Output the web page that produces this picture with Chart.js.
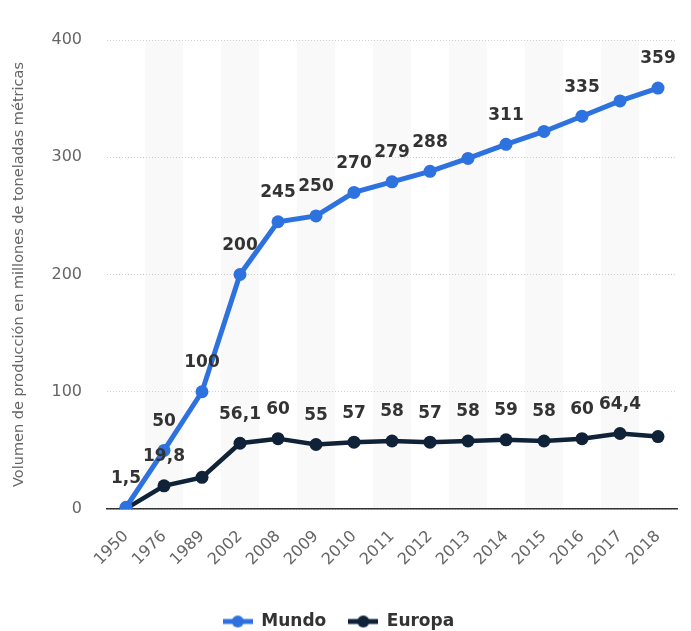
<!DOCTYPE html>
<html>
<head>
<meta charset="utf-8">
<script src="https://cdn.jsdelivr.net/npm/chart.js@4.4.1/dist/chart.umd.min.js"></script>
<style>
  html, body { margin: 0; padding: 0; background: #fff; }
  #wrap { width: 691px; height: 631px; position: relative; }
</style>
</head>
<body>
<div id="wrap"><canvas id="myChart"></canvas></div>
<script>
const years = ['1950', '1976', '1989', '2002', '2008', '2009', '2010', '2011', '2012', '2013', '2014', '2015', '2016', '2017', '2018'];
const mundo = [1.5, 50, 100, 200, 245, 250, 270, 279, 288, 299, 311, 322, 335, 348, 359];
const europa = [0.35, 19.8, 27, 56.1, 60, 55, 57, 58, 57, 58, 59, 58, 60, 64.4, 61.8];
const mundoLabels = ['1,5', '50', '100', '200', '245', '250', '270', '279', '288', null, '311', null, '335', null, '359'];
const europaLabels = [null, '19,8', null, '56,1', '60', '55', '57', '58', '57', '58', '59', '58', '60', '64,4', null];
const yTicks = [0, 100, 200, 300, 400];

const blue = '#2d72de';
const navy = '#0f2238';

// little line+dot picture for the legend
function legendMark(color) {
  let c = document.createElement('canvas');
  c.width = 30; c.height = 14;
  let g = c.getContext('2d');
  g.strokeStyle = color; g.lineWidth = 5;
  g.beginPath(); g.moveTo(0, 7); g.lineTo(30, 7); g.stroke();
  g.fillStyle = color;
  g.beginPath(); g.arc(15, 7, 6, 0, Math.PI * 2); g.fill();
  return c;
}

const bands = {
  id: 'bands',
  beforeDraw(chart) {
    const {ctx, chartArea, scales} = chart;
    ctx.save();
    ctx.fillStyle = '#fff';
    ctx.fillRect(0, 0, chart.width, chart.height);
    const step = scales.x.getPixelForValue(1) - scales.x.getPixelForValue(0);
    ctx.fillStyle = '#f9f9f9';
    years.forEach((y, i) => {
      if (i % 2 === 1) {
        const cx = scales.x.getPixelForValue(i);
        ctx.fillRect(cx - step / 2, chartArea.top, step, chartArea.bottom - chartArea.top);
      }
    });
    ctx.restore();
  }
};

const valueLabels = {
  id: 'valueLabels',
  afterDatasetsDraw(chart) {
    const ctx = chart.ctx;
    const sets = [mundoLabels, europaLabels];
    ctx.save();
    ctx.font = 'bold 17px "DejaVu Sans"';
    ctx.fillStyle = '#333';
    ctx.textAlign = 'center';
    ctx.textBaseline = 'middle';
    sets.forEach((labels, d) => {
      const meta = chart.getDatasetMeta(d);
      meta.data.forEach((pt, i) => {
        if (labels[i]) ctx.fillText(labels[i], pt.x, pt.y - 29);
      });
    });
    ctx.restore();
  }
};

const ctx = document.getElementById('myChart');

new Chart(ctx, {
  type: 'line',
  data: {
    labels: years,
    datasets: [{
      label: 'Mundo',
      data: mundo,
      borderColor: blue,
      backgroundColor: blue,
      borderWidth: 5,
      pointRadius: 6.5,
      pointBorderWidth: 0,
      pointBackgroundColor: blue,
      tension: 0
    }, {
      label: 'Europa',
      data: europa,
      borderColor: navy,
      backgroundColor: navy,
      borderWidth: 4.5,
      pointRadius: 6.5,
      pointBorderWidth: 0,
      pointBackgroundColor: navy,
      tension: 0
    }]
  },
  options: {
    responsive: true,
    maintainAspectRatio: false,
    animation: false,
    layout: { padding: { top: 40, right: 14, left: 0, bottom: -9 } },
    plugins: {
      tooltip: { enabled: false },
      legend: {
        position: 'bottom',
        labels: {
          usePointStyle: true,
          pointStyleWidth: 30,
          padding: 22,
          color: '#333',
          font: { family: '"DejaVu Sans"', size: 17, weight: 'bold' },
          generateLabels(chart) {
            return chart.data.datasets.map((ds, i) => ({
              text: ds.label,
              fillStyle: ds.borderColor,
              strokeStyle: ds.borderColor,
              fontColor: '#333',
              lineWidth: 0,
              pointStyle: legendMark(ds.borderColor),
              datasetIndex: i,
              hidden: false
            }));
          }
        }
      }
    },
    scales: {
      x: {
        offset: true,
        grid: { display: false, drawTicks: false },
        border: { display: true, color: '#333', width: 1.5 },
        ticks: {
          color: '#666',
          font: { family: '"DejaVu Sans"', size: 16 },
          maxRotation: 45,
          minRotation: 45,
          padding: 18,
          autoSkip: false
        },
        afterFit(scale) { scale.height = 82; }
      },
      y: {
        min: 0,
        max: 400,
        afterBuildTicks(scale) { scale.ticks = yTicks.map(v => ({ value: v })); },
        grid: { color: '#cfcfcf', drawTicks: false },
        border: { display: false, dash: [1, 2] },
        ticks: {
          color: '#666',
          font: { family: '"DejaVu Sans"', size: 16 },
          padding: 25
        },
        title: {
          display: true,
          text: 'Volumen de producción en millones de toneladas métricas',
          color: '#666',
          font: { family: '"DejaVu Sans"', size: 14.5 },
          padding: { top: 11, bottom: 0 }
        },
        afterFit(scale) { scale.width = 107; }
      }
    }
  },
  plugins: [bands, valueLabels]
});
</script>
</body>
</html>
